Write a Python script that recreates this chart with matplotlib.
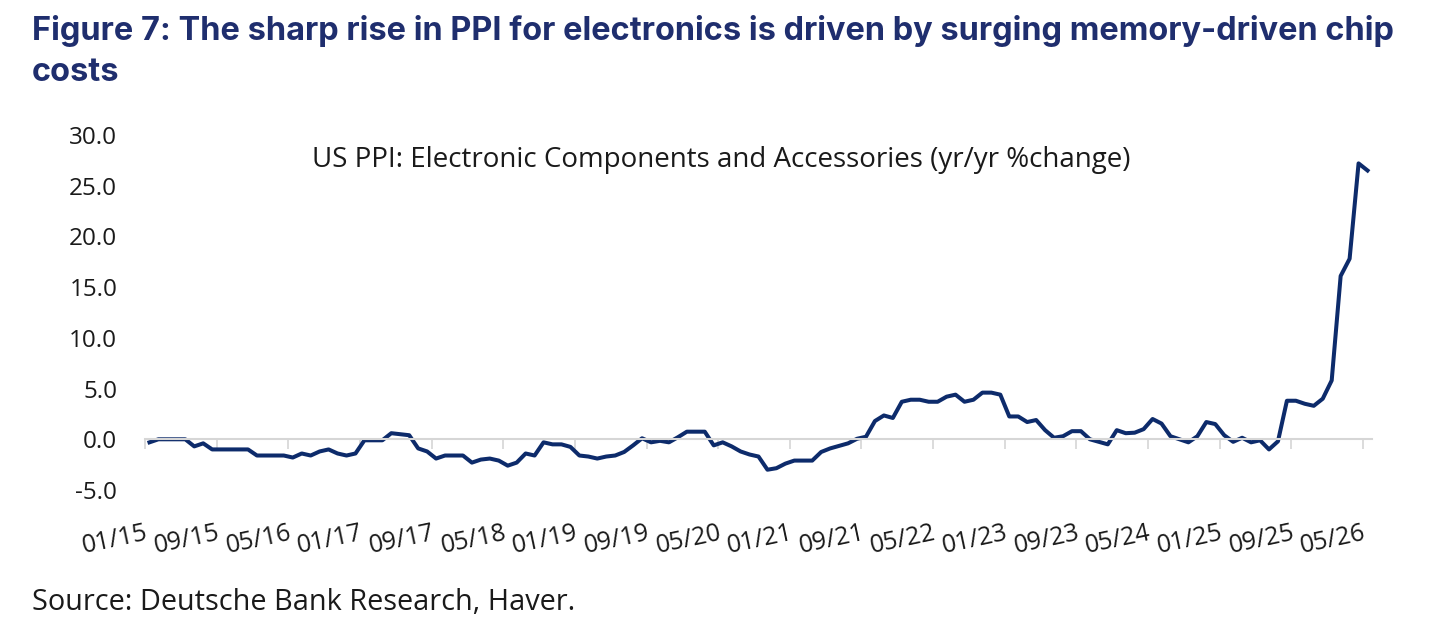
import numpy as np
import matplotlib
matplotlib.use("Agg")
import matplotlib.pyplot as plt

# US PPI electronic components, yr/yr % change, monthly 01/15 .. 05/26
ppi_yoy = [
    -0.3, 0.0, 0.0, 0.0, 0.0, -0.7, -0.4, -1.0, -1.0, -1.0, -1.0, -1.0,
    -1.6, -1.6, -1.6, -1.6, -1.8, -1.4, -1.6, -1.2, -1.0, -1.4, -1.6, -1.4,
    -0.1, -0.1, -0.1, 0.6, 0.5, 0.4, -0.9, -1.2, -1.9, -1.6, -1.6, -1.6,
    -2.3, -2.0, -1.9, -2.1, -2.6, -2.3, -1.4, -1.6, -0.3, -0.5, -0.5, -0.75,
    -1.6, -1.7, -1.9, -1.7, -1.6, -1.25, -0.6, 0.1, -0.3, -0.15, -0.3, 0.2,
    0.75, 0.75, 0.75, -0.6, -0.3, -0.7, -1.2, -1.5, -1.7, -3.0, -2.85, -2.4,
    -2.1, -2.1, -2.1, -1.25, -0.9, -0.65, -0.4, 0.05, 0.25, 1.8, 2.35, 2.1,
    3.7, 3.9, 3.9, 3.7, 3.7, 4.2, 4.4, 3.7, 3.9, 4.6, 4.6, 4.4,
    2.25, 2.25, 1.7, 1.9, 0.9, 0.15, 0.3, 0.8, 0.8, 0.0, -0.25, -0.5,
    0.9, 0.6, 0.65, 1.0, 2.0, 1.55, 0.3, 0.0, -0.3, 0.3, 1.7, 1.5,
    0.4, -0.25, 0.15, -0.3, -0.1, -1.0, -0.2, 3.8, 3.8, 3.5, 3.3, 4.0,
    5.8, 16.1, 17.8, 27.2, 26.5,
]
tick_labels = ["01/15", "09/15", "05/16", "01/17", "09/17", "05/18", "01/19",
               "09/19", "05/20", "01/21", "09/21", "05/22", "01/23", "09/23",
               "05/24", "01/25", "09/25", "05/26"]
yticks = [-5, 0, 5, 10, 15, 20, 25, 30]

navy = "#0d2b6b"
title_col = "#1f2e6e"
grey_axis = "#d6d6d6"
body_font = ["Open Sans", "DejaVu Sans"]
title_font = ["Inter", "DejaVu Sans"]

n = len(ppi_yoy)
x = np.arange(n) + 0.5          # category centred between tick marks
tick_pos = np.arange(0, n, 8)

fig = plt.figure(figsize=(14.4, 6.29), dpi=100)
ax = fig.add_axes([145/1440, 1-490/629, (1372-145)/1440, (490-135)/629])

for s in ["top", "right", "left"]:
    ax.spines[s].set_visible(False)
ax.spines["bottom"].set_position(("data", 0))
ax.spines["bottom"].set_color(grey_axis)
ax.spines["bottom"].set_linewidth(1.5)

ax.plot(x, ppi_yoy, color=navy, lw=2.9, solid_joinstyle="round")

ax.set_xlim(0, n)
ax.set_ylim(-5, 30)
ax.set_yticks(yticks)
ax.set_yticklabels([f"{v:.1f}" for v in yticks], fontsize=17.5, family=body_font,
                   color="#1a1a1a")
ax.tick_params(axis="y", length=0, pad=20)

ax.set_xticks(tick_pos)
ax.set_xticklabels(tick_labels, fontsize=18, family=body_font, color="#1a1a1a",
                   rotation=12, ha="right", va="top", rotation_mode="anchor")
ax.tick_params(axis="x", length=7.5, width=1.2, color=grey_axis, pad=51)

fig.text(32/1440, 1-40/629,
         "Figure 7: The sharp rise in PPI for electronics is driven by surging memory-driven chip",
         fontsize=23.4, fontweight="bold", color=title_col, family=title_font,
         ha="left", va="baseline")
fig.text(32/1440, 1-81/629, "costs",
         fontsize=23.4, fontweight="bold", color=title_col, family=title_font,
         ha="left", va="baseline")
fig.text(312/1440, 1-160/629,
         "US PPI: Electronic Components and Accessories (yr/yr %change)",
         fontsize=20, color="#1a1a1a", family=body_font, ha="left", va="center")
fig.text(32/1440, 1-610/629, "Source: Deutsche Bank Research, Haver.",
         fontsize=20.8, color="#1a1a1a", family=body_font, ha="left", va="baseline")

fig.savefig("out.png", dpi=100)
